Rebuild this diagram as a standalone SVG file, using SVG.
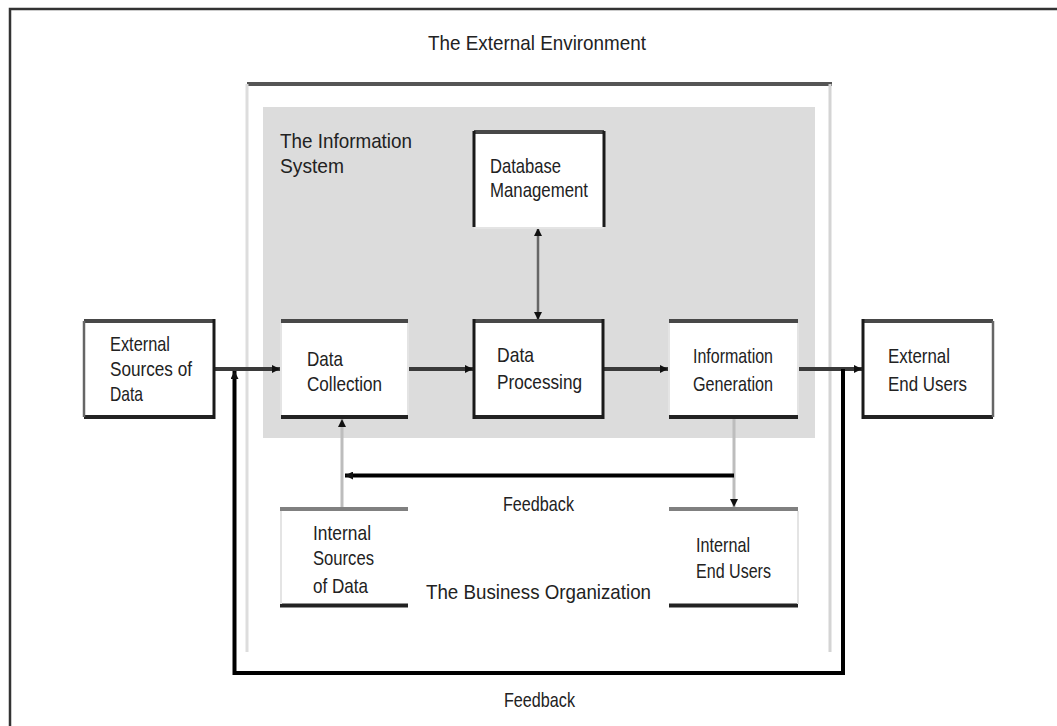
<svg xmlns="http://www.w3.org/2000/svg" width="1057" height="726" viewBox="0 0 1057 726">
  <style>
    text { font-family: "Liberation Sans", Arial, sans-serif; font-size: 21px; fill: #222; }
    .box { fill: #fff; stroke: none; }
    .edge-dark { stroke: #222; stroke-width: 4; }
    .edge-mid { stroke: #484848; stroke-width: 4; }
    .edge-gray { stroke: #808080; stroke-width: 4; }
    .side-dark { stroke: #1a1a1a; stroke-width: 3; }
    .side-mid { stroke: #666; stroke-width: 2.5; }
    .side-light { stroke: #e4e4e4; stroke-width: 2; }
    .flow { stroke: #3a3a3a; stroke-width: 4; fill: none; }
    .loop { stroke: #000; stroke-width: 4; fill: none; }
    .thin { stroke: #bdbdbd; stroke-width: 3; fill: none; }
  </style>
  <defs>
    <marker id="ah" viewBox="0 0 10 10" refX="10" refY="5" markerWidth="9" markerHeight="8" markerUnits="userSpaceOnUse" orient="auto-start-reverse">
      <path d="M0,0 L10,5 L0,10 z" fill="#111"/>
    </marker>
  </defs>

  <rect width="1057" height="726" fill="#fff"/>

  <!-- outer frame: the external environment -->
  <g id="environment">
    <rect x="10" y="9" width="1060" height="730" fill="none" stroke="#333" stroke-width="2.5"/>
    <text x="428" y="50" textLength="218" lengthAdjust="spacingAndGlyphs">The External Environment</text>
  </g>

  <!-- the business organization -->
  <g id="organization">
    <line x1="247" y1="84" x2="832" y2="84" stroke="#555" stroke-width="4"/>
    <line x1="247" y1="84" x2="247" y2="652" stroke="#ddd" stroke-width="3"/>
    <line x1="830" y1="84" x2="830" y2="652" stroke="#d4d4d4" stroke-width="3"/>
    <text x="426" y="599" textLength="225" lengthAdjust="spacingAndGlyphs">The Business Organization</text>
  </g>

  <!-- the information system -->
  <g id="information-system">
    <rect x="263" y="107" width="552" height="331" fill="#dcdcdc"/>
    <text x="280" y="148" textLength="132" lengthAdjust="spacingAndGlyphs" fill="#2a2a2a">The Information</text>
    <text x="280" y="173" textLength="64" lengthAdjust="spacingAndGlyphs" fill="#2a2a2a">System</text>
  </g>

  <!-- connectors -->
  <g id="connectors">
    <line class="flow" x1="214" y1="369" x2="280" y2="369" marker-end="url(#ah)"/>
    <line class="flow" x1="408" y1="369" x2="473" y2="369" marker-end="url(#ah)"/>
    <line class="flow" x1="603" y1="369" x2="668" y2="369" marker-end="url(#ah)"/>
    <line class="flow" x1="798" y1="369" x2="862" y2="369" marker-end="url(#ah)"/>
    <line x1="538" y1="228" x2="538" y2="320" stroke="#666" stroke-width="2.5" marker-start="url(#ah)" marker-end="url(#ah)"/>
    <!-- outer feedback loop -->
    <polyline class="loop" points="843,369 843,673 234.5,673 234.5,371" marker-end="url(#ah)"/>
    <!-- inner feedback loop -->
    <line class="thin" x1="734" y1="418" x2="734" y2="507" marker-end="url(#ah)"/>
    <line class="loop" x1="734" y1="475.5" x2="345" y2="475.5" marker-end="url(#ah)"/>
    <line class="thin" x1="342" y1="508" x2="342" y2="419" marker-end="url(#ah)"/>
    <text x="503" y="511" textLength="71" lengthAdjust="spacingAndGlyphs">Feedback</text>
    <text x="504" y="707" textLength="71" lengthAdjust="spacingAndGlyphs">Feedback</text>
  </g>

  <!-- nodes -->
  <g id="database-management">
    <rect class="box" x="474" y="132" width="130" height="95"/>
    <line class="edge-mid" x1="474" y1="132" x2="604" y2="132"/>
    <line class="side-dark" x1="474" y1="131" x2="474" y2="227"/>
    <line class="side-dark" x1="604" y1="131" x2="604" y2="227"/>
    <line class="side-light" x1="474" y1="228" x2="604" y2="228"/>
    <text x="490" y="173" textLength="71" lengthAdjust="spacingAndGlyphs">Database</text>
    <text x="490" y="197" textLength="98" lengthAdjust="spacingAndGlyphs">Management</text>
  </g>

  <g id="external-sources">
    <rect class="box" x="84" y="321" width="130" height="96"/>
    <line class="edge-mid" x1="84" y1="321" x2="214" y2="321"/>
    <line class="edge-dark" x1="84" y1="417" x2="214" y2="417"/>
    <line class="side-mid" x1="84" y1="321" x2="84" y2="417"/>
    <line class="side-dark" x1="214" y1="319" x2="214" y2="419"/>
    <text x="110" y="351" textLength="60" lengthAdjust="spacingAndGlyphs">External</text>
    <text x="110" y="376" textLength="82" lengthAdjust="spacingAndGlyphs">Sources of</text>
    <text x="110" y="401" textLength="33" lengthAdjust="spacingAndGlyphs">Data</text>
  </g>

  <g id="data-collection">
    <rect class="box" x="281" y="321" width="127" height="96"/>
    <line class="edge-mid" x1="281" y1="321" x2="408" y2="321"/>
    <line class="edge-dark" x1="281" y1="417" x2="408" y2="417"/>
    <line class="side-light" x1="281" y1="323" x2="281" y2="415"/>
    <line class="side-light" x1="408" y1="323" x2="408" y2="415"/>
    <text x="307" y="366" textLength="36" lengthAdjust="spacingAndGlyphs" fill="#333">Data</text>
    <text x="307" y="391" textLength="75" lengthAdjust="spacingAndGlyphs" fill="#333">Collection</text>
  </g>

  <g id="data-processing">
    <rect class="box" x="474" y="321" width="129" height="96"/>
    <line class="edge-mid" x1="474" y1="321" x2="603" y2="321"/>
    <line class="edge-dark" x1="474" y1="417" x2="603" y2="417"/>
    <line class="side-dark" x1="474" y1="319" x2="474" y2="419"/>
    <line class="side-dark" x1="603" y1="319" x2="603" y2="419"/>
    <text x="497" y="362" textLength="37" lengthAdjust="spacingAndGlyphs">Data</text>
    <text x="497" y="389" textLength="85" lengthAdjust="spacingAndGlyphs">Processing</text>
  </g>

  <g id="information-generation">
    <rect class="box" x="669" y="321" width="129" height="96"/>
    <line class="edge-mid" x1="669" y1="321" x2="798" y2="321"/>
    <line class="edge-dark" x1="669" y1="417" x2="798" y2="417"/>
    <line class="side-light" x1="669" y1="323" x2="669" y2="415"/>
    <line class="side-light" x1="798" y1="323" x2="798" y2="415"/>
    <text x="693" y="363" textLength="80" lengthAdjust="spacingAndGlyphs" fill="#333">Information</text>
    <text x="693" y="391" textLength="80" lengthAdjust="spacingAndGlyphs" fill="#333">Generation</text>
  </g>

  <g id="external-end-users">
    <rect class="box" x="863" y="321" width="130" height="96"/>
    <line class="edge-mid" x1="863" y1="321" x2="993" y2="321"/>
    <line class="edge-dark" x1="863" y1="417" x2="993" y2="417"/>
    <line class="side-dark" x1="863" y1="319" x2="863" y2="419"/>
    <line class="side-mid" x1="993" y1="321" x2="993" y2="417"/>
    <text x="888" y="363" textLength="62" lengthAdjust="spacingAndGlyphs">External</text>
    <text x="888" y="391" textLength="79" lengthAdjust="spacingAndGlyphs">End Users</text>
  </g>

  <g id="internal-sources">
    <rect class="box" x="280" y="509" width="128" height="96"/>
    <line class="edge-gray" x1="280" y1="509" x2="408" y2="509"/>
    <line class="edge-dark" x1="280" y1="605.5" x2="408" y2="605.5"/>
    <line class="side-light" x1="281" y1="511" x2="281" y2="604"/>
    <text x="313" y="540" textLength="58" lengthAdjust="spacingAndGlyphs">Internal</text>
    <text x="313" y="565" textLength="61" lengthAdjust="spacingAndGlyphs">Sources</text>
    <text x="313" y="593" textLength="55" lengthAdjust="spacingAndGlyphs">of Data</text>
  </g>

  <g id="internal-end-users">
    <rect class="box" x="669" y="509" width="129" height="96"/>
    <line class="edge-gray" x1="669" y1="509" x2="798" y2="509"/>
    <line class="edge-dark" x1="669" y1="605.5" x2="798" y2="605.5"/>
    <line class="side-light" x1="798" y1="511" x2="798" y2="604"/>
    <text x="696" y="552" textLength="54" lengthAdjust="spacingAndGlyphs">Internal</text>
    <text x="696" y="578" textLength="75" lengthAdjust="spacingAndGlyphs">End Users</text>
  </g>
</svg>
